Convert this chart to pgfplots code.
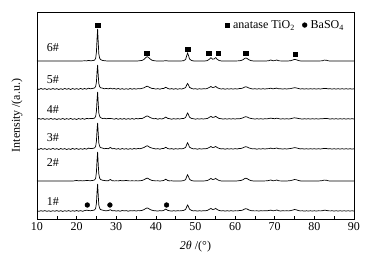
\documentclass[border=0pt]{standalone}
\usepackage{fontspec}
\setmainfont{Liberation Serif}
\usepackage{pgfplots}
\usepackage{pgfplotstable}
\pgfplotsset{compat=1.18}
\pgfplotsset{markleg/.style={legend image code/.code={\path[draw=none,fill=none] (0cm,0cm) -- (0.24cm,0cm); \draw[mark repeat=2,mark phase=2,##1] plot coordinates {(0cm,0cm) (0.1cm,0cm) (0.2cm,0cm)};}}}
\pgfplotstableread{
x A B C D E F
10.0 0 0.2 -0.3 0.3 0 0.2
10.5 0.1 -0.4 0.4 -0.4 0.1 -0.3
11.0 0 0.5 -0.2 0.5 -0.1 0.3
11.5 -0.1 -0.3 0.5 -0.3 0.1 -0.2
12.0 0 0.4 -0.4 0.4 0 0.4
12.5 0.1 -0.5 0.3 -0.5 0.1 -0.3
13.0 0 0.3 -0.3 0.3 -0.1 0.2
13.5 -0.1 -0.4 0.6 -0.4 0.1 -0.4
14.0 0 0.5 -0.3 0.6 0 0.3
14.5 0.1 -0.3 0.4 -0.3 0.1 -0.2
15.0 0 0.4 -0.5 0.4 -0.1 0.4
15.5 0 -0.5 0.3 -0.5 0.1 -0.3
16.0 0.1 0.3 -0.3 0.5 0 0.3
16.5 0 -0.4 0.5 -0.3 0.1 -0.4
17.0 -0.1 0.6 -0.4 0.4 -0.1 0.3
17.5 0 -0.3 0.4 -0.5 0.1 -0.2
18.0 0.1 0.4 -0.3 0.3 0 0.4
18.5 0 -0.5 0.6 -0.4 0.1 -0.3
19.0 0 0.5 -0.4 0.6 0 0.3
19.5 0.1 -0.3 0.3 -0.3 0.2 -0.2
20.0 0 0.4 -0.5 0.5 0.6 0.5
20.5 0.1 -0.4 0.5 -0.4 0.1 -0.2
21.0 0 0.6 -0.2 0.4 0.4 0.4
21.5 0.1 -0.3 0.5 -0.3 0.1 -0.3
22.0 0.2 0.5 -0.3 0.5 0.3 0.4
22.5 0.1 -0.2 0.6 -0.2 0.5 0.8
23.0 0.6 0.8 0.3 0.9 0.4 0.5
23.5 0.2 0.2 0.5 0.4 0.3 0.3
24.0 0.4 0.6 0.4 0.6 0.5 0.6
24.5 0.8 1.0 0.9 1.0 1.0 1.0
24.8 2.5 2.5 2.5 2.5 2.5 2.5
25.0 9 7 8 8 9 8
25.15 22 17 19 19 21 19
25.3 32 24 27 26 29 27
25.45 19 14 16 16 17 16
25.6 7 5.5 6 6 7 6
25.8 3 2.5 2.8 2.8 3 2.8
26.0 1.5 1.3 1.5 1.4 1.6 1.5
26.5 0.6 0.9 0.5 1.0 0.8 0.9
27.0 0.3 0.2 0.7 0.3 0.5 0.4
27.5 0.1 0.6 0.2 0.6 0.2 0.2
28.0 0 0.1 0.6 0.2 0.3 0.5
28.5 0.1 0.8 0.5 1.6 1.5 1.3
29.0 0 0.1 0.3 0.2 0.3 0.2
29.5 0.1 0.5 -0.2 0.5 0.1 0.4
30.0 0 -0.2 0.5 -0.2 0.2 -0.1
30.5 0.1 0.5 -0.3 0.4 0.1 0.3
31.0 0 -0.3 0.4 -0.3 0.5 -0.2
31.5 0.1 0.4 -0.2 0.5 0.2 0.5
32.0 0 -0.3 0.5 -0.2 0.3 0.1
32.5 0.1 0.3 -0.3 0.4 0.6 0.4
33.0 0 -0.3 0.4 -0.3 0.2 -0.2
33.5 0.1 0.5 -0.2 0.4 0.1 0.3
34.0 0 -0.2 0.5 -0.2 0.2 0.1
34.5 0.1 0.4 -0.2 0.5 0.1 0.4
35.0 0 -0.1 0.5 0 0.2 0
35.5 0.1 0.4 0.1 0.5 0.1 0.4
36.0 0.3 0.2 0.6 0.3 0.3 0.3
36.5 0.6 0.7 0.5 0.8 0.5 0.6
37.0 1.5 1.2 1.4 1.5 1.3 1.4
37.5 3.5 2.3 2.6 2.7 2.4 2.6
37.8 4.3 2.8 3.1 3.2 2.9 3.1
38.0 4.0 2.5 2.8 2.9 2.6 2.8
38.5 2.2 1.4 1.6 1.6 1.4 1.6
39.0 0.8 0.6 0.8 0.9 0.6 0.8
39.5 0.3 0.4 0.2 0.5 0.3 0.3
40.0 0.1 -0.1 0.5 0 0.1 0.2
40.5 0 0.4 -0.2 0.4 0.2 -0.1
41.0 0.1 -0.2 0.4 -0.2 0 0.4
41.5 0 0.4 0 0.4 0.2 0.1
42.0 0.1 0.6 0.7 0.6 0.6 0.7
42.5 0.3 1.7 1.9 1.7 1.8 1.9
43.0 0.1 0.6 0.6 0.5 0.5 0.6
43.5 0 -0.1 0.3 0 0.1 0.2
44.0 0.1 0.4 -0.2 0.4 0.2 -0.1
44.5 0 -0.2 0.4 -0.2 0 0.3
45.0 0.1 0.4 -0.1 0.4 0.1 0
45.5 0 -0.2 0.4 -0.1 0 0.3
46.0 0.1 0.3 0 0.4 0.1 0.1
46.5 0.1 0 0.4 0.1 0.1 0.3
47.0 0.3 0.6 0.5 0.6 0.4 0.6
47.5 1.5 1.4 1.5 1.5 1.4 1.5
47.8 5.5 4.2 4.5 4.6 4.6 4.5
48.0 8.0 5.5 6.0 6.2 6.2 6.0
48.2 6.0 4.3 4.6 4.7 4.7 4.6
48.5 2.0 1.6 1.8 1.8 1.7 1.8
49.0 0.5 0.6 0.5 0.7 0.4 0.6
49.5 0.1 0 0.3 0.1 0.1 0.1
50.0 0 0.3 -0.2 0.3 0 0.3
50.5 0.1 -0.2 0.3 -0.2 0.1 -0.1
51.0 0 0.3 -0.1 0.4 0 0.3
51.5 0.1 -0.1 0.3 -0.1 0.1 0
52.0 0 0.3 0 0.3 0 0.3
52.5 0.1 0.1 0.3 0.2 0.2 0.2
53.0 0.4 0.6 0.5 0.6 0.5 0.6
53.5 1.8 1.6 1.7 1.6 1.5 1.7
53.9 3.3 2.5 2.6 2.5 2.6 2.6
54.3 1.8 1.5 1.6 1.5 1.5 1.5
54.7 2.0 1.7 1.8 1.7 1.7 1.7
55.1 3.4 2.6 2.7 2.5 2.6 2.6
55.5 1.6 1.3 1.5 1.4 1.4 1.4
56.0 0.4 0.5 0.5 0.6 0.4 0.5
56.5 0.1 0 0.3 0.1 0.1 0.1
57.0 0 0.3 -0.1 0.3 0 0.3
57.5 0.1 -0.2 0.3 -0.2 0.1 -0.1
58.0 0 0.3 -0.1 0.4 0 0.3
58.5 0.1 -0.1 0.3 -0.1 0.1 0
59.0 0 0.3 0 0.3 0 0.3
59.5 0.1 -0.1 0.3 -0.1 0.1 0
60.0 0 0.3 0 0.4 0.1 0.2
60.5 0.1 0 0.3 0 0.1 0.1
61.0 0.2 0.4 0.2 0.5 0.3 0.4
61.5 0.5 0.5 0.6 0.6 0.6 0.5
62.0 1.3 1.1 1.2 1.2 1.3 1.1
62.4 2.5 1.9 2.0 2.0 2.4 2.0
62.7 3.0 2.2 2.3 2.3 2.8 2.3
63.0 2.6 1.9 2.0 2.0 2.4 2.0
63.5 1.2 1.0 1.1 1.1 1.2 1.0
64.0 0.4 0.4 0.5 0.5 0.4 0.4
64.5 0.1 0 0.3 0.1 0.1 0.2
65.0 0 0.3 -0.1 0.3 0 0.1
65.5 0.1 -0.1 0.3 -0.2 0.1 0.2
66.0 0 0.3 0 0.3 0 0
66.5 0.1 -0.1 0.3 -0.1 0.1 0.3
67.0 0 0.3 -0.1 0.4 0 0.1
67.5 0.1 0 0.3 0 0.1 0.3
68.0 0.1 0.3 0.1 0.3 0.2 0.2
68.5 0.3 0.4 0.5 0.4 0.5 0.5
69.0 1.0 0.8 0.9 0.9 1.0 0.9
69.5 0.3 0.2 0.5 0.3 0.3 0.3
70.0 0.4 0.5 0.3 0.5 0.4 0.4
70.5 1.0 0.9 0.8 1.0 1.0 1.0
71.0 0.2 0.2 0.4 0.2 0.2 0.3
71.5 0.1 0.3 -0.1 0.3 0.1 0
72.0 0 -0.1 0.3 -0.1 0 0.3
72.5 0.1 0.3 0 0.3 0.1 0.1
73.0 0 0 0.3 0 0 0.2
73.5 0.1 0.3 0 0.3 0.2 0.1
74.0 0.3 0.4 0.3 0.5 0.4 0.4
74.5 0.9 0.9 0.8 0.9 0.9 0.9
75.0 1.6 1.3 1.2 1.4 1.5 1.5
75.5 1.2 1.0 0.9 1.1 1.2 1.1
76.0 0.4 0.5 0.5 0.5 0.5 0.4
76.5 0.1 0 0.2 0.1 0.1 0.1
77.0 0 0.3 -0.1 0.3 0 0.2
77.5 0.1 -0.1 0.3 -0.1 0.1 -0.1
78.0 0 0.3 0 0.3 0 0.2
78.5 0.1 -0.1 0.3 -0.1 0.1 0
79.0 0 0.3 -0.1 0.3 0 0.2
79.5 0.1 0 0.3 0 0.1 0
80.0 0 0.3 0 0.3 0 0.2
80.5 0.1 -0.1 0.3 -0.1 0.1 0
81.0 0 0.3 -0.1 0.3 0 0.2
81.5 0.1 0 0.3 0 0.2 0.1
82.0 0.2 0.3 0.2 0.3 0.4 0.3
82.5 0.9 0.6 0.5 0.6 0.9 0.8
83.0 0.8 0.5 0.6 0.5 0.8 0.6
83.5 0.2 0.1 0.3 0.1 0.2 0.2
84.0 0 0.3 -0.1 0.3 0 0.1
84.5 0.1 -0.1 0.3 -0.1 0.1 0.2
85.0 0 0.3 0 0.3 0 0
85.5 0.1 -0.1 0.3 -0.1 0.1 0.2
86.0 0 0.3 -0.1 0.3 0 0
86.5 0.1 -0.1 0.3 -0.1 0.1 0.2
87.0 0 0.3 0 0.3 0 0
87.5 0.1 -0.1 0.3 -0.1 0.1 0.2
88.0 0 0.3 -0.1 0.3 0 0
88.5 0.1 -0.1 0.3 -0.1 0.1 0.2
89.0 0 0.3 0 0.3 0 0
89.5 0.1 -0.1 0.3 -0.1 0.1 0.2
90.0 0 0.2 0 0.2 0 0
}\xrd
\begin{document}
\begin{tikzpicture}
\begin{axis}[
  scale only axis,
  width=317pt, height=207pt,
  xmin=10, xmax=90, ymin=0, ymax=207,
  xtick={10,20,...,90},
  minor x tick num=1,
  xtick pos=bottom,
  ytick=\empty,
  tick align=inside,
  major tick length=3pt,
  minor tick length=3pt,
  axis line style={line width=0.6pt},
  every tick/.style={black, line width=0.6pt},
  /pgf/number format/assume math mode=true,
  tick label style={font=\fontsize{12}{14}\selectfont},
  label style={font=\fontsize{12}{14}\selectfont},
  xlabel={\textit{2θ} /(°)},
  ylabel={Intensity /(a.u.)},
  xlabel style={at={(axis description cs:0.5,0)}, anchor=center, yshift=-28pt},
  ylabel style={at={(axis description cs:-0.063,0.5)}, anchor=center},
  legend style={draw=none, fill=none, font=\fontsize{12}{14}\selectfont,
    at={(rel axis cs:0.975,0.937)}, anchor=east, inner sep=0pt,
    /tikz/every even column/.append style={column sep=5pt}},
  legend columns=2,
  legend cell align=left,
  clip=false,
]
\addplot[only marks, mark=square*, mark size=2.3pt, black, markleg] coordinates {
  (25.3,194) (37.7,166) (48.0,170) (53.4,166) (55.7,166) (62.7,166) (75.2,165)};
\addlegendentry{anatase TiO\textsubscript{2}}
\addplot[only marks, mark=*, mark size=2.4pt, black, markleg] coordinates {
  (22.7,14) (28.4,14) (42.7,14)};
\addlegendentry{BaSO\textsubscript{4}}
\addplot[black, line width=0.7pt, forget plot] table[x=x, y expr=\thisrow{A}+158] {\xrd};
\addplot[black, line width=0.7pt, forget plot] table[x=x, y expr=\thisrow{B}+130] {\xrd};
\addplot[black, line width=0.7pt, forget plot] table[x=x, y expr=\thisrow{C}+100] {\xrd};
\addplot[black, line width=0.7pt, forget plot] table[x=x, y expr=\thisrow{D}+70] {\xrd};
\addplot[black, line width=0.7pt, forget plot] table[x=x, y expr=\thisrow{E}+38] {\xrd};
\addplot[black, line width=0.7pt, forget plot] table[x=x, y expr=\thisrow{F}+8] {\xrd};
\node[font=\fontsize{12}{14}\selectfont] at (axis cs:14,171) {6\#};
\node[font=\fontsize{12}{14}\selectfont] at (axis cs:14,139) {5\#};
\node[font=\fontsize{12}{14}\selectfont] at (axis cs:14,109) {4\#};
\node[font=\fontsize{12}{14}\selectfont] at (axis cs:14,81) {3\#};
\node[font=\fontsize{12}{14}\selectfont] at (axis cs:14,56) {2\#};
\node[font=\fontsize{12}{14}\selectfont] at (axis cs:14,17) {1\#};
\end{axis}
\pgfresetboundingbox
\useasboundingbox (current axis.south west) ++(-37pt,-44pt) rectangle ++(373pt,263pt);
\end{tikzpicture}
\end{document}
